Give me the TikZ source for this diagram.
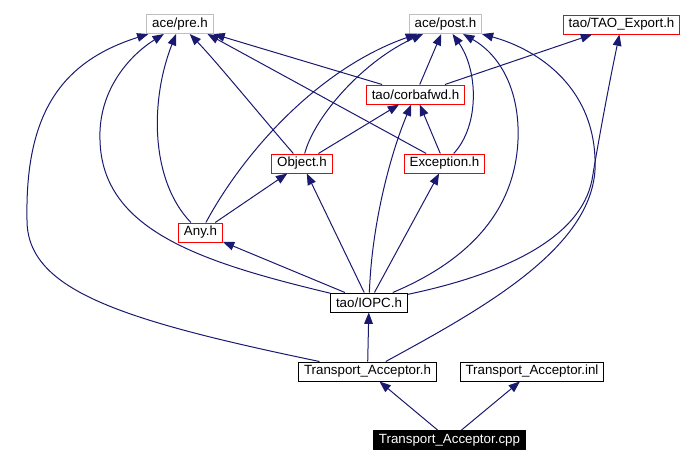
\documentclass[tikz,border=0pt]{standalone}
\usepackage{fontspec}
\setmainfont{Liberation Sans}
\usetikzlibrary{arrows.meta}

\definecolor{edgeblue}{HTML}{191970}
\definecolor{sysgray}{HTML}{BFBFBF}

\begin{document}
\begin{tikzpicture}[x=0.75pt, y=-0.75pt,
    every node/.style={rectangle, draw, line width=0.75pt, minimum height=14.25pt,
        inner xsep=4pt, inner ysep=0pt, font=\fontsize{10pt}{12pt}\selectfont},
    sysfile/.style={draw=sysgray},
    taofile/.style={draw=red},
    plainfile/.style={draw=black},
    mainfile/.style={draw=black, fill=black, text=white},
    dep/.style={-{Triangle[length=8.5pt, width=6.5pt]}, draw=edgeblue, line width=0.75pt}]

\useasboundingbox (0,0) rectangle (690,465);

% ===== Top row: ace and export headers =====
\node[sysfile] (pre)  at (180,24)    {ace/pre.h};
\node[sysfile] (post) at (445.5,24)  {ace/post.h};
\node[taofile] (tex)  at (621.5,24.5) {tao/TAO\_Export.h};

% ===== Middle rows =====
\node[taofile] (corbafwd)  at (415.5,94.5)  {tao/corbafwd.h};
\node[taofile] (object)    at (302,163.5)   {Object.h};
\node[taofile] (exception) at (444.5,163.5) {Exception.h};
\node[taofile] (any)       at (200.5,232.5) {Any.h};
\node[plainfile] (iopc)    at (369,302.5)   {tao/IOPC.h};

% ===== Transport acceptor files =====
\node[plainfile] (tah)   at (367.5,371.5) {Transport\_Acceptor.h};
\node[plainfile] (tainl) at (532,371.5)   {Transport\_Acceptor.inl};
\node[mainfile]  (tacpp) at (449.5,440)   {Transport\_Acceptor.cpp};

% ===== Straight includes =====
\foreach \a/\b in {tacpp/tah, tacpp/tainl, tah/iopc, iopc/any, iopc/object,
                   iopc/exception, any/object, object/corbafwd, exception/corbafwd,
                   corbafwd/post, corbafwd/pre, corbafwd/tex} {
    \draw[dep] (\a) -- (\b);
}
\draw[dep] (exception) -- (pre.-20);

% ===== Curved includes =====
\draw[dep] (tah) .. controls (120,320) and (27,290) .. (27,220)
                 .. controls (25,115) and (60,62) .. (pre);
\draw[dep] (tah) .. controls (480,310) and (590,250) .. (595,170)
                 .. controls (598,90) and (540,50) .. (post);
\draw[dep] (iopc) .. controls (500,275) and (580,240) .. (592,180)
                  .. controls (602,120) and (612,70) .. (tex);
\draw[dep] (iopc) .. controls (200,262) and (102,230) .. (100,140)
                  .. controls (98,90) and (130,55) .. (pre);
\draw[dep] (iopc) .. controls (372,220) and (392,150) .. (corbafwd);
\draw[dep] (iopc) .. controls (470,260) and (515,210) .. (518,140)
                  .. controls (520,90) and (500,55) .. (post);
\draw[dep] (any) .. controls (150,180) and (150,100) .. (pre);
\draw[dep] (any) .. controls (245,150) and (320,68) .. (post);
\draw[dep] (object) .. controls (260,115) and (215,60) .. (pre);
\draw[dep] (object) .. controls (315,115) and (365,60) .. (post);
\draw[dep] (exception) .. controls (480,125) and (478,70) .. (post);

\end{tikzpicture}
\end{document}
